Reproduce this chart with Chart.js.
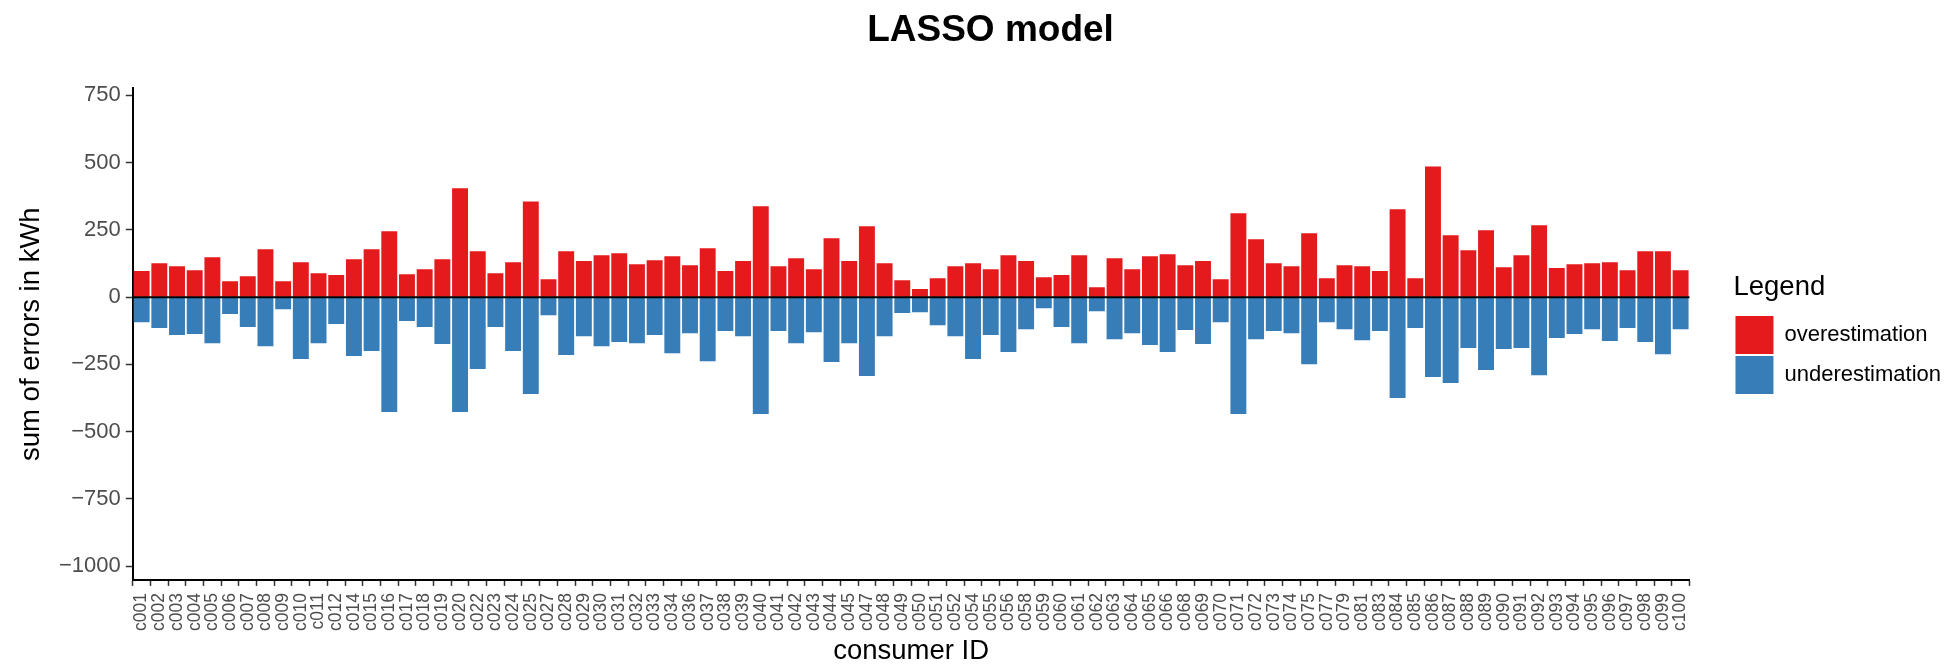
<!DOCTYPE html>
<html>
<head>
<meta charset="utf-8">
<title>LASSO model</title>
<script src="https://cdn.jsdelivr.net/npm/chart.js@4.4.1/dist/chart.umd.min.js"></script>
<style>
  html, body { margin: 0; padding: 0; background: #fff; }
  #wrap { width: 1959px; height: 664px; position: relative; }
</style>
</head>
<body>
<div id="wrap"><canvas id="errChart"></canvas></div>
<script>
const consumers = [
  "c001","c002","c003","c004","c005","c006","c007","c008","c009","c010","c011","c012","c014","c015","c016","c017","c018","c019","c020","c022","c023","c024","c025",
  "c027","c028","c029","c030","c031","c032","c033","c034","c036","c037","c038","c039","c040","c041","c042","c043","c044","c045","c047","c048","c049","c050",
  "c051","c052","c054","c055","c056","c058","c059","c060","c061","c062","c063","c064","c065","c066","c068","c069","c070","c071","c072","c073","c074","c075",
  "c077","c079","c081","c083","c084","c085","c086","c087","c088","c089","c090","c091","c092","c093","c094","c095","c096","c097","c098","c099","c100"
];

// sum of errors in kWh
const overestimation = [
  97,126,115,100,148,59,78,178,59,130,89,82,141,178,245,85,104,141,405,171,89,130,356,
  67,171,134,156,163,122,137,152,119,182,97,134,338,115,145,104,219,134,264,126,63,30,
  70,115,126,104,156,134,74,82,156,37,145,104,152,160,119,134,67,312,215,126,115,238,
  70,119,115,97,327,70,486,230,174,249,111,156,267,108,122,126,130,100,171,171,100
];
const underestimation = [
  -93,-115,-141,-137,-171,-63,-111,-182,-45,-230,-171,-100,-219,-200,-427,-89,-111,-174,-427,-267,-111,-200,-360,
  -67,-215,-145,-182,-167,-171,-141,-208,-134,-238,-126,-145,-434,-126,-171,-130,-241,-171,-293,-145,-59,-56,
  -104,-145,-230,-141,-204,-119,-41,-111,-171,-52,-156,-134,-178,-204,-122,-174,-93,-434,-156,-126,-134,-249,
  -93,-119,-160,-126,-375,-115,-297,-319,-189,-271,-193,-189,-290,-152,-137,-119,-163,-115,-167,-212,-119
];
const yTicks = [-1000, -750, -500, -250, 0, 250, 500, 750];

const tickGrey = "#4D4D4D";
Chart.defaults.font.family = "'Liberation Sans', Arial, sans-serif";

// black line at zero, drawn over the bars
const zeroLine = {
  id: "zeroLine",
  afterDatasetsDraw(chart) {
    const { ctx, chartArea, scales } = chart;
    const y = scales.y.getPixelForValue(0);
    ctx.save();
    ctx.strokeStyle = "#000";
    ctx.lineWidth = 2;
    ctx.beginPath();
    ctx.moveTo(chartArea.left, y);
    ctx.lineTo(chartArea.right, y);
    ctx.stroke();
    ctx.restore();
  }
};

new Chart(document.getElementById("errChart"), {
  type: "bar",
  data: {
    labels: consumers,
    datasets: [
      { label: "overestimation", data: overestimation, backgroundColor: "#E41A1C" },
      { label: "underestimation", data: underestimation, backgroundColor: "#377EB8" }
    ]
  },
  options: {
    responsive: true,
    maintainAspectRatio: false,
    animation: false,
    barPercentage: 0.9,
    categoryPercentage: 1.0,
    layout: { padding: { left: 30, right: 8, top: 0, bottom: 0 } },
    plugins: {
      tooltip: { enabled: false },
      title: {
        display: true,
        text: "LASSO model",
        color: "#000",
        font: { size: 37, weight: "bold" },
        padding: { top: 9, bottom: 35 }
      },
      legend: {
        position: "right",
        align: "center",
        title: {
          display: true,
          text: "Legend",
          color: "#000",
          position: "start",
          font: { size: 27.5 },
          padding: { top: 6, bottom: 7 }
        },
        labels: {
          boxWidth: 38,
          boxHeight: 38,
          padding: 2,
          color: "#000",
          font: { size: 22 }
        }
      }
    },
    scales: {
      x: {
        stacked: true,
        offset: true,
        grid: { display: true, drawOnChartArea: false, drawTicks: true, tickLength: 6, tickColor: "#333", tickWidth: 1.5 },
        border: { display: true, color: "#000", width: 2 },
        ticks: { autoSkip: false, minRotation: 90, maxRotation: 90, padding: 7, color: tickGrey, font: { size: 17.5 } },
        title: { display: true, text: "consumer ID", color: "#000", font: { size: 27.5, lineHeight: 0.95 }, padding: { top: 0, bottom: 0 } }
      },
      y: {
        stacked: true,
        min: -1051,
        max: 776,
        afterBuildTicks: scale => { scale.ticks = yTicks.map(v => ({ value: v })); },
        grid: { display: true, drawOnChartArea: false, drawTicks: true, tickLength: 7, tickColor: "#333", tickWidth: 1.5 },
        border: { display: true, color: "#000", width: 2 },
        ticks: {
          padding: 5,
          color: tickGrey,
          font: { size: 22 },
          callback: v => v < 0 ? "\u2212" + Math.abs(v) : String(v)
        },
        title: { display: true, text: "sum of errors in kWh", color: "#000", font: { size: 27.5, lineHeight: 1 }, padding: { top: -12, bottom: 8.5 } }
      },
      gap: {
        // empty right axis, keeps space between the plot and the legend
        position: "right",
        display: true,
        grid: { display: false },
        border: { display: false },
        ticks: { display: false },
        afterFit: scale => { scale.width = 44; }
      }
    }
  },
  plugins: [zeroLine]
});
</script>
</body>
</html>
